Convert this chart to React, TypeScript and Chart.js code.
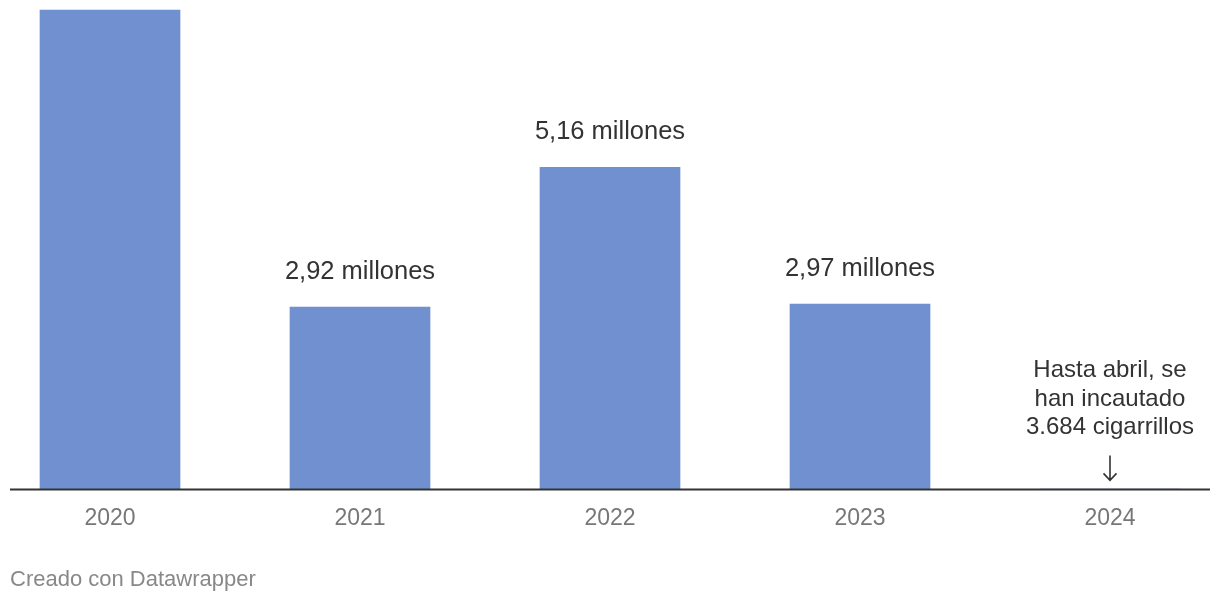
import React, { useEffect, useRef } from "react";
import { Chart, registerables } from "chart.js";

Chart.register(...registerables);

const categories = ["2020", "2021", "2022", "2023", "2024"];
// millions of cigarettes seized
const seized = [7.68, 2.92, 5.16, 2.97, 0.003684];
const valueLabels: (string | null)[] = [null, "2,92 millones", "5,16 millones", "2,97 millones", null];
const noteLines = ["Hasta abril, se", "han incautado", "3.684 cigarrillos"];
const footer = "Creado con Datawrapper";

const FONT = "'Liberation Sans', Arial, Helvetica, sans-serif";

const overlay = {
  id: "overlay",
  afterDatasetsDraw(chart: any) {
    const { ctx, chartArea, scales } = chart;
    const x = scales.x;
    const y = scales.y;
    const base = y.getPixelForValue(0);
    ctx.save();
    // baseline
    ctx.strokeStyle = "#333333";
    ctx.lineWidth = 2;
    ctx.beginPath();
    ctx.moveTo(chartArea.left - 100, base);
    ctx.lineTo(chartArea.right + 100, base);
    ctx.stroke();

    // value labels
    ctx.fillStyle = "#333333";
    ctx.font = `25.5px ${FONT}`;
    ctx.textAlign = "center";
    ctx.textBaseline = "middle";
    const meta = chart.getDatasetMeta(0);
    valueLabels.forEach((lbl, i) => {
      if (!lbl) return;
      const bar = meta.data[i];
      ctx.fillText(lbl, bar.x, bar.y - 35);
    });

    // annotation for 2024
    const ax = x.getPixelForValue(4);
    ctx.font = `24px ${FONT}`;
    const lh = 28.5;
    noteLines.forEach((t, i) => {
      ctx.fillText(t, ax, base - 62 - (noteLines.length - 1 - i) * lh);
    });
    // arrow
    ctx.strokeStyle = "#333333";
    ctx.lineWidth = 1.6;
    ctx.beginPath();
    ctx.moveTo(ax, base - 34);
    ctx.lineTo(ax, base - 9);
    ctx.moveTo(ax - 6.5, base - 16);
    ctx.lineTo(ax, base - 9);
    ctx.lineTo(ax + 6.5, base - 16);
    ctx.stroke();

    // footer
    ctx.fillStyle = "#888888";
    ctx.font = `22px ${FONT}`;
    ctx.textAlign = "left";
    ctx.fillText(footer, chartArea.left - 100, 580);
    ctx.restore();
  },
};

export default function App() {
  const ref = useRef<HTMLCanvasElement | null>(null);
  useEffect(() => {
    if (!ref.current) return;
    const chart = new Chart(ref.current, {
      type: "bar",
      data: {
        labels: categories,
        datasets: [
          {
            data: seized,
            backgroundColor: "#7190CF",
            barThickness: 140,
            borderWidth: 0,
            clip: false as any,
          },
        ],
      },
      options: {
        animation: false,
        responsive: true,
        maintainAspectRatio: false,
        layout: { padding: { left: 110, right: 110, top: 10, bottom: 65 } },
        plugins: { legend: { display: false }, tooltip: { enabled: false } },
        scales: {
          x: {
            offset: false,
            grid: { display: false },
            border: { display: false },
            ticks: {
              color: "#777777",
              font: { family: FONT, size: 23 },
              padding: 7,
              maxRotation: 0,
            },
          },
          y: {
            display: false,
            min: 0,
            max: 7.68,
          },
        },
      },
      plugins: [overlay],
    });
    return () => chart.destroy();
  }, []);
  return (
    <div style={{ position: "fixed", left: 0, top: 0, width: 1220, height: 604, background: "#fff" }}>
      <canvas ref={ref} />
    </div>
  );
}
